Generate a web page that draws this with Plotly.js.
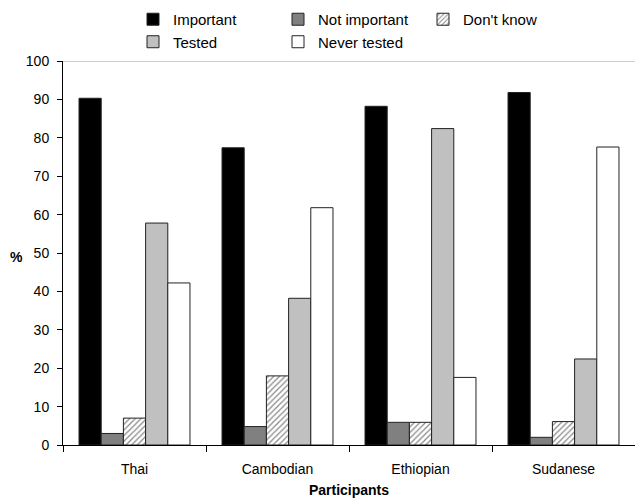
<!DOCTYPE html>
<html>
<head>
<meta charset="utf-8">
<script src="https://cdn.plot.ly/plotly-3.0.1.min.js"></script>
<style>html,body{margin:0;padding:0;background:#fff;}#chart{width:635px;height:499px;}</style>
</head>
<body>
<div id="chart"></div>
<script>
var categories = ["Thai", "Cambodian", "Ethiopian", "Sudanese"];
var seriesNames = ["Important", "Not important", "Don't know", "Tested", "Never tested"];
var important = [90.3, 77.4, 88.2, 91.8];
var notImportant = [3.0, 4.8, 5.9, 2.0];
var dontKnow = [7.0, 18.0, 5.9, 6.1];
var tested = [57.8, 38.2, 82.4, 22.4];
var neverTested = [42.2, 61.8, 17.6, 77.6];
var yTicks = [0, 10, 20, 30, 40, 50, 60, 70, 80, 90, 100];

var fontFam = "Liberation Sans, Arial, Helvetica, sans-serif";
var outline = {color: "#222", width: 1};

function bar(name, y, color, extra) {
  var m = {color: color, line: outline};
  if (extra) { for (var k in extra) m[k] = extra[k]; }
  return {type: "bar", name: name, x: categories, y: y, marker: m, hoverinfo: "x+y"};
}

var data = [
  bar(seriesNames[0], important, "#000000"),
  bar(seriesNames[1], notImportant, "#808080"),
  bar(seriesNames[2], dontKnow, "#ffffff", {pattern: {shape: "/", fgcolor: "#888", bgcolor: "#ffffff", size: 4, solidity: 0.3}}),
  bar(seriesNames[3], tested, "#c0c0c0"),
  bar(seriesNames[4], neverTested, "#ffffff")
];

var layout = {
  width: 635, height: 499,
  margin: {l: 63, r: 0, t: 61, b: 54, autoexpand: false},
  paper_bgcolor: "#fff", plot_bgcolor: "#fff",
  font: {family: fontFam, size: 14, color: "#000"},
  barmode: "group",
  bargap: 0.224,
  bargroupgap: 0,
  showlegend: true,
  legend: {
    orientation: "h", xref: "paper", x: 0.1224, xanchor: "left",
    yref: "container", y: 0.994, yanchor: "top",
    entrywidth: 100, traceorder: "normal",
    font: {family: fontFam, size: 15, color: "#000"},
    bgcolor: "rgba(0,0,0,0)"
  },
  xaxis: {
    type: "category",
    showline: true, linecolor: "#000", linewidth: 1,
    ticks: "outside", tickson: "boundaries", ticklen: 6, tickcolor: "#000",
    showgrid: false, zeroline: false,
    tickfont: {family: fontFam, size: 14, color: "#000"},
    ticklabelstandoff: 11,
    title: {text: "<b>Participants</b>", font: {family: fontFam, size: 14, color: "#000"}, standoff: 9}
  },
  yaxis: {
    range: [0, 100],
    tickvals: yTicks,
    showline: true, linecolor: "#000", linewidth: 1,
    ticks: "outside", ticklen: 5, tickcolor: "#000",
    showgrid: false, zeroline: false,
    tickfont: {family: fontFam, size: 14, color: "#000"},
    ticklabelstandoff: 5
  },
  shapes: [
    {type: "line", xref: "paper", yref: "y", x0: 0, x1: 1, y0: 100, y1: 100, line: {color: "#9a9a9a", width: 1}}
  ],
  annotations: [
    {text: "<b>%</b>", xref: "paper", yref: "paper", x: -0.082, y: 0.49, showarrow: false, xanchor: "center", yanchor: "middle", font: {family: fontFam, size: 14, color: "#000"}}
  ]
};

Plotly.newPlot("chart", data, layout, {displayModeBar: false, staticPlot: true});
</script>
</body>
</html>
